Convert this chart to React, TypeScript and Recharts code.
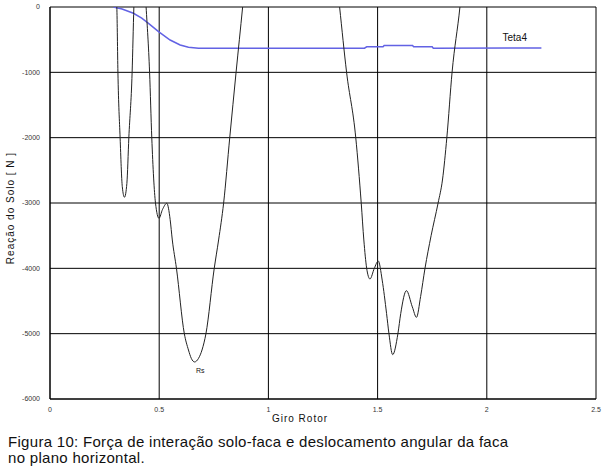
import { LineChart, Line, XAxis, YAxis, CartesianGrid, ReferenceDot } from 'recharts'

// Rs: soil reaction [N] vs rotor turn (values above 0 are clipped by the axis)
const rsGiro = [
  0.29, 0.306, 0.311, 0.321, 0.331, 0.341, 0.352, 0.361, 0.376, 0.384, 0.41,
  0.44, 0.456, 0.466, 0.483, 0.499, 0.515, 0.535, 0.55, 0.56, 0.579, 0.615,
  0.634, 0.647, 0.662, 0.68, 0.696, 0.714, 0.752, 0.772, 0.795, 0.823, 0.852,
  0.882, 0.95, 1.1, 1.25, 1.326, 1.358, 1.4, 1.425, 1.437, 1.45, 1.465, 1.485,
  1.503, 1.521, 1.541, 1.552, 1.569, 1.593, 1.606, 1.632, 1.659, 1.678, 1.697,
  1.717, 1.745, 1.777, 1.797, 1.817, 1.841, 1.877, 1.9,
]
const rsValores = [
  800, 0, -1000, -2000, -2750, -2912, -2700, -2000, -1000, 0, 1500,
  0, -1000, -2000, -3000, -3234, -3100, -3005, -3250, -3566, -4000, -5000,
  -5250, -5378, -5433, -5378, -5250, -5000, -4000, -3566, -3000, -2000, -1000,
  0, 2500, 4000, 2500, 0, -1000, -2000, -3000, -3566, -4000, -4163, -4000,
  -3888, -4180, -4690, -5000, -5321, -5000, -4690, -4342, -4590, -4750, -4430,
  -4000, -3500, -3000, -2648, -2000, -1000, 0, 800,
]

// Teta4: angular displacement of the blade
const tetaGiro = [
  0.29, 0.33, 0.382, 0.42, 0.451, 0.497, 0.55, 0.596, 0.634, 0.68, 1.0, 1.44,
  1.45, 1.525, 1.53, 1.66, 1.665, 1.75, 1.755, 2.25,
]
const tetaValores = [
  0, -30, -96, -170, -250, -378, -505, -582, -617, -632, -630, -630,
  -610, -610, -590, -590, -610, -610, -630, -628,
]

const xTicks = [0, 0.5, 1, 1.5, 2, 2.5]
const yTicks = [0, -1000, -2000, -3000, -4000, -5000, -6000]

const rsData = rsGiro.map((g, i) => ({ giro: g, rs: rsValores[i] }))
const tetaData = tetaGiro.map((g, i) => ({ giro: g, teta: tetaValores[i] }))

const font = '"Liberation Sans", Arial, sans-serif'
const tickStyle = { fontFamily: font, fontSize: 7, fill: '#333' }

export default function App() {
  return (
    <div style={{ position: 'absolute', left: 0, top: 0, width: 609, height: 472, background: '#fff', fontFamily: font }}>
      <LineChart width={609} height={472} margin={{ top: 7, right: 13, bottom: 59, left: 0 }}>
        <CartesianGrid stroke="#000" strokeWidth={1} />
        <XAxis
          type="number"
          dataKey="giro"
          domain={[0, 2.5]}
          ticks={xTicks}
          tick={tickStyle}
          tickLine={false}
          axisLine={{ stroke: '#000' }}
          height={14}
          tickMargin={2}
          allowDataOverflow
        />
        <YAxis
          type="number"
          domain={[-6000, 0]}
          ticks={yTicks}
          tick={tickStyle}
          tickLine={false}
          axisLine={{ stroke: '#000' }}
          width={50}
          tickMargin={4}
          allowDataOverflow
        />
        <Line
          data={tetaData}
          dataKey="teta"
          type="linear"
          stroke="#6262e4"
          strokeWidth={1.5}
          dot={false}
          isAnimationActive={false}
        />
        <Line
          data={rsData}
          dataKey="rs"
          type="monotone"
          stroke="#222"
          strokeWidth={1}
          dot={false}
          isAnimationActive={false}
        />
        <ReferenceDot
          x={2.128}
          y={-460}
          r={0}
          label={{ value: 'Teta4', fontFamily: font, fontSize: 10, fill: '#111' }}
        />
        <ReferenceDot
          x={0.688}
          y={-5560}
          r={0}
          label={{ value: 'Rs', fontFamily: font, fontSize: 7, fill: '#111' }}
        />
      </LineChart>
      <div style={{
        position: 'absolute', left: 10, top: 208, transform: 'translate(-50%, -50%) rotate(-90deg)',
        fontSize: 10, letterSpacing: 1, whiteSpace: 'nowrap', color: '#111',
      }}>Reação do Solo [ N ]</div>
      <div style={{
        position: 'absolute', left: 300, top: 418, transform: 'translate(-50%, -50%)',
        fontSize: 10, letterSpacing: 1, whiteSpace: 'nowrap', color: '#111',
      }}>Giro Rotor</div>
      <div style={{
        position: 'absolute', left: 8, top: 434, fontSize: 15, lineHeight: '15.5px',
        letterSpacing: 0.3, whiteSpace: 'nowrap', color: '#111',
      }}>
        Figura 10: Força de interação solo-faca e deslocamento angular da faca<br />
        no plano horizontal.
      </div>
    </div>
  )
}
